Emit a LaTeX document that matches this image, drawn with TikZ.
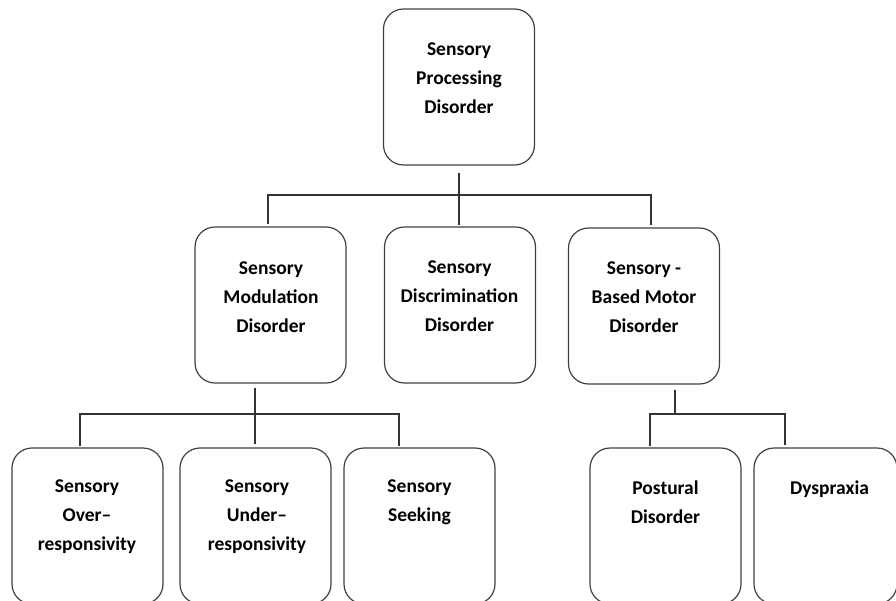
\documentclass[tikz,border=0pt]{standalone}
\usepackage{fontspec}
\setmainfont{Carlito}
\tikzset{
  box/.style={draw=black!75, line width=1.2pt, rounded corners=20pt, minimum width=151pt, minimum height=156pt, inner sep=0pt},
  lbl/.style={align=center, inner sep=0pt, font=\fontsize{19.5}{29}\selectfont\bfseries},
  conn/.style={draw=black!80, line width=1.2pt}
}
\begin{document}
\begin{tikzpicture}[x=1pt,y=-1pt]
\useasboundingbox (0,0) rectangle (896,600);
% boxes
\node[box] (spd) at (459,87) {};
\node[box] (smd) at (270.5,305) {};
\node[box] (sdd) at (460,305) {};
\node[box] (sbm) at (644,306) {};
\node[box] (ovr) at (87.5,526) {};
\node[box] (und) at (255.5,526) {};
\node[box] (skg) at (419.5,526) {};
\node[box] (pos) at (665.5,526) {};
\node[box, minimum width=143pt] (dys) at (825.5,526) {};
% labels
\node[lbl] (l1) at (459,78) {Sensory\\Processing\\Disorder};
\node[lbl] (l2) at (271,297) {Sensory\\Modulation\\Disorder};
\node[lbl] (l3) at (459.5,296) {Sensory\\Discrimination\\Disorder};
\node[lbl] (l4) at (644,297) {Sensory -\\Based Motor\\Disorder};
\node[lbl] (l5) at (87,517) {Sensory\\Over--\\responsivity};
\node[lbl] (l6) at (257,516.5) {Sensory\\Under--\\responsivity};
\node[lbl] (l7) at (419.5,502.5) {Sensory\\Seeking};
\node[lbl] (l8) at (665.5,502) {Postural\\Disorder};
\node[lbl] (l9) at (829.5,489) {Dyspraxia};
% junctions
\coordinate (h1) at (459,195);
\coordinate (h2) at (255,414);
\coordinate (h3) at (675,414);
% top connector
\draw[conn] (spd.south) ++(0,7) -- ++(0,52);
\draw[conn] ([xshift=-2.5pt,yshift=2pt]smd.north) |- (h1) -| ([xshift=7pt,yshift=2pt]sbm.north);
% modulation connector
\draw[conn] (und.north |- smd.south) ++(-0.5,4) -- ++(0,56);
\draw[conn] ([xshift=-7.5pt,yshift=1pt]ovr.north) |- (h2) -| ([xshift=-20.5pt,yshift=1pt]skg.north);
% motor connector
\draw[conn] ([xshift=31pt,yshift=-5pt]sbm.south) -- (h3);
\draw[conn] ([xshift=-15.5pt,yshift=1pt]pos.north) |- (h3) -| ([xshift=-40.5pt,yshift=2pt]dys.north);
\end{tikzpicture}
\end{document}
